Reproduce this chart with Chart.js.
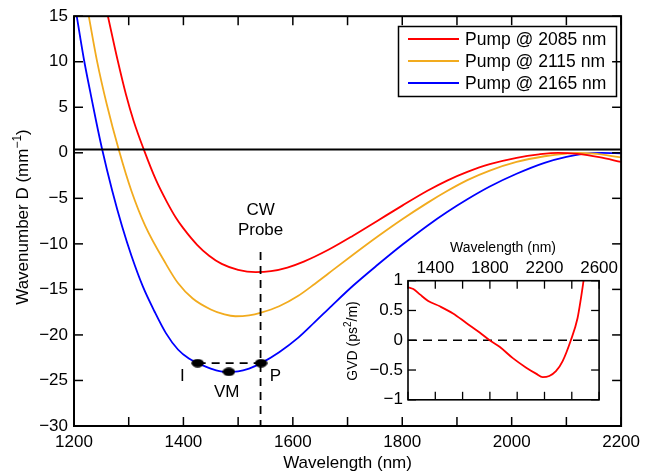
<!DOCTYPE html>
<html><head><meta charset="utf-8">
<script src="https://cdn.jsdelivr.net/npm/chart.js@4.4.1/dist/chart.umd.min.js"></script>
<style>
html,body{margin:0;padding:0;background:#fff;}
#wrap{position:relative;width:646px;height:471px;overflow:hidden;background:#fff;}
#main{position:absolute;left:0;top:0;}
#inset{position:absolute;left:330px;top:230px;}
</style></head><body>
<div id="wrap"><canvas id="main" width="646" height="471"></canvas><canvas id="inset" width="290" height="185"></canvas></div>
<script>
// ---------- DATA ----------
const seriesLabels = ['Pump @ 2085 nm', 'Pump @ 2115 nm', 'Pump @ 2165 nm'];
const seriesColors = ['#ff0000', '#f2ab1e', '#0000ff'];

const redWl  = [1262,1280,1295,1309,1328,1350,1369,1386,1400,1425,1447,1470,1500,1532,1560,1590,1620,1665,1710,1755,1800,1846,1882,1919,1960,2009,2050,2085,2120,2160,2200];
const redD   = [15,10.1,6.4,3.5,0.3,-3.0,-5.3,-7.1,-8.3,-10.1,-11.3,-12.2,-12.85,-13.1,-13.0,-12.6,-11.95,-10.65,-9.1,-7.45,-5.8,-4.17,-3.05,-2.1,-1.25,-0.55,-0.17,0.0,-0.12,-0.48,-1.0];

const orangeWl = [1227,1242,1260,1282,1305,1330,1368,1390,1417,1450,1475,1495,1520,1542,1575,1610,1640,1665,1710,1755,1800,1846,1882,1919,1960,2009,2060,2100,2120,2150,2200];
const orangeD  = [15,10.1,5.3,0.3,-4.2,-8.0,-12.2,-14.3,-16.0,-17.2,-17.75,-17.95,-17.85,-17.55,-16.85,-15.7,-14.4,-13.25,-11.2,-9.2,-7.3,-5.5,-4.2,-3.0,-1.95,-1.0,-0.38,-0.08,0.0,-0.1,-0.5];

const blueWl = [1205,1218,1230,1240,1251,1270,1288,1305,1326,1347,1368,1390,1410,1426,1450,1475,1500,1520,1542,1575,1610,1640,1671,1710,1755,1800,1846,1882,1919,1960,2009,2060,2100,2130,2165,2200];
const blueD  = [15,10.3,6.6,3.6,0.5,-4.2,-8.1,-11.3,-14.7,-17.4,-19.8,-21.6,-22.6,-23.1,-23.7,-24.05,-24.0,-23.7,-23.1,-21.9,-20.3,-18.6,-16.8,-14.6,-12.3,-10.1,-8.0,-6.5,-5.1,-3.7,-2.3,-1.1,-0.45,-0.12,0.0,-0.05];

const refLineWl = [1200, 2200];
const refLineD  = [0.35, 0.35];

const probeWl = [1541, 1541];
const probeD  = [-10.9, -30];

const levelWl = [1426, 1542];
const levelD  = [-23.1, -23.1];

const markerNames = ['I', 'VM', 'P'];
const markerWl = [1426, 1483, 1542];
const markerD  = [-23.1, -24.05, -23.1];

const mainXTickValues = [1200,1300,1400,1500,1600,1700,1800,1900,2000,2100,2200];
const mainXTickLabels = ['1200','','1400','','1600','','1800','','2000','','2200'];
const mainYTickValues = [15,10,5,0,-5,-10,-15,-20,-25,-30];
const mainYTickLabels = ['15','10','5','0','\u22125','\u221210','\u221215','\u221220','\u221225','\u221230'];

// inset GVD
const gvdWl = [1202,1239,1287,1348,1433,1530,1627,1725,1798,1871,1968,2066,2138,2187,2235,2284,2333,2393,2442,2466,2490];
const gvdVal = [0.89,0.86,0.77,0.66,0.57,0.45,0.29,0.13,0.0,-0.11,-0.30,-0.46,-0.56,-0.62,-0.60,-0.52,-0.35,0.0,0.37,0.69,1.06];
const gvdZeroWl = [1200, 2600];
const gvdZeroVal = [0, 0];
const insetXTickValues = [1200,1400,1600,1800,2000,2200,2400,2600];
const insetXTickLabels = ['','1400','','1800','','2200','','2600'];
const insetYTickValues = [1,0.5,0,-0.5,-1];
const insetYTickLabels = ['1','0.5','0','\u22120.5','\u22121'];

// ---------- helpers ----------
const pts = (xs, ys) => xs.map((v, i) => ({x: v, y: ys[i]}));
const FONT = "'Liberation Sans', Arial, Helvetica, sans-serif";
Chart.defaults.font.family = FONT;
Chart.defaults.color = '#000';

function line(ctx, x1, y1, x2, y2) { ctx.beginPath(); ctx.moveTo(x1, y1); ctx.lineTo(x2, y2); ctx.stroke(); }
function fixedTicks(values) { return function(scale) { scale.ticks = values.map(v => ({value: v})); }; }
function labelFrom(values, labels) { return function(v) { const i = values.indexOf(v); return i >= 0 ? labels[i] : ''; }; }

// ellipse marker style
const dot = document.createElement('canvas');
dot.width = 13; dot.height = 9;
(function(){ const c = dot.getContext('2d'); c.fillStyle = '#000'; c.beginPath(); c.ellipse(6.5, 4.5, 6.2, 4.2, 0, 0, Math.PI * 2); c.fill(); })();

// ---------- main chart ----------
const mainPlugin = {
  id: 'mainDecor',
  afterDraw(chart) {
    const {ctx, chartArea: a, scales: {x, y}} = chart;
    ctx.save();
    ctx.strokeStyle = '#000';
    ctx.lineWidth = 1.5;
    x.ticks.forEach(t => { const px = x.getPixelForValue(t.value); line(ctx, px, a.bottom, px, a.bottom - 9); line(ctx, px, a.top, px, a.top + 9); });
    y.ticks.forEach(t => { const py = y.getPixelForValue(t.value); line(ctx, a.left, py, a.left + 9, py); line(ctx, a.right, py, a.right - 9, py); });
    ctx.lineWidth = 2;
    ctx.strokeRect(a.left, a.top, a.right - a.left, a.bottom - a.top);

    // annotations
    ctx.fillStyle = '#000';
    ctx.font = '17px ' + FONT;
    ctx.textAlign = 'center';
    ctx.textBaseline = 'middle';
    ctx.fillText('CW', x.getPixelForValue(1541), y.getPixelForValue(-6.35));
    ctx.fillText('Probe', x.getPixelForValue(1541), y.getPixelForValue(-8.55));
    const lblPos = [[1398, -24.5], [1479, -26.3], [1568, -24.5]];
    markerNames.forEach((n, i) => ctx.fillText(n, x.getPixelForValue(lblPos[i][0]), y.getPixelForValue(lblPos[i][1])));

    // legend
    ctx.lineWidth = 1.5;
    ctx.strokeRect(398.5, 26.5, 218, 70);
    ctx.textAlign = 'left';
    ctx.font = '17.5px ' + FONT;
    seriesLabels.forEach((s, i) => {
      const ry = 39 + i * 22;
      ctx.strokeStyle = seriesColors[i];
      ctx.lineWidth = 2;
      line(ctx, 408, ry, 459, ry);
      ctx.fillStyle = '#000';
      ctx.fillText(s, 465, ry + 1);
    });

    // axis titles
    ctx.fillStyle = '#000';
    ctx.textAlign = 'center';
    ctx.textBaseline = 'alphabetic';
    ctx.font = '17px ' + FONT;
    ctx.fillText('Wavelength (nm)', (a.left + a.right) / 2, 468);

    const p1 = 'Wavenumber D (mm', sup = '\u22121', p2 = ')';
    ctx.font = '17px ' + FONT; const w1 = ctx.measureText(p1).width, w3 = ctx.measureText(p2).width;
    ctx.font = '12px ' + FONT; const w2 = ctx.measureText(sup).width;
    const total = w1 + w2 + w3;
    ctx.translate(28, 217);
    ctx.rotate(-Math.PI / 2);
    let cx = -total / 2;
    ctx.textAlign = 'left';
    ctx.font = '17px ' + FONT; ctx.fillText(p1, cx, 0); cx += w1;
    ctx.font = '12px ' + FONT; ctx.fillText(sup, cx, -7); cx += w2;
    ctx.font = '17px ' + FONT; ctx.fillText(p2, cx, 0);
    ctx.restore();
  }
};

const curveDs = (label, xs, ys, color) => ({
  label, data: pts(xs, ys), borderColor: color, borderWidth: 1.8,
  pointRadius: 0, fill: false, cubicInterpolationMode: 'monotone', order: 2
});

new Chart(document.getElementById('main'), {
  type: 'line',
  data: {
    datasets: [
      {data: pts(refLineWl, refLineD), borderColor: '#000', borderWidth: 2, pointRadius: 0, tension: 0, order: 1},
      curveDs(seriesLabels[0], redWl, redD, seriesColors[0]),
      curveDs(seriesLabels[1], orangeWl, orangeD, seriesColors[1]),
      curveDs(seriesLabels[2], blueWl, blueD, seriesColors[2]),
      {data: pts(probeWl, probeD), borderColor: '#000', borderWidth: 1.8, borderDash: [8, 6], pointRadius: 0, tension: 0, order: 0},
      {data: pts(levelWl, levelD), borderColor: '#000', borderWidth: 1.8, borderDash: [8, 6], pointRadius: 0, tension: 0, order: 0},
      {data: pts(markerWl, markerD), showLine: false, pointStyle: dot, pointRadius: 6, order: -1}
    ]
  },
  options: {
    responsive: false, animation: false, devicePixelRatio: 1,
    layout: {padding: {top: 15, right: 21, left: 0, bottom: 0}},
    plugins: {legend: {display: false}, tooltip: {enabled: false}},
    scales: {
      x: {
        type: 'linear', min: 1200, max: 2200,
        afterBuildTicks: fixedTicks(mainXTickValues),
        afterFit: s => { s.height = 45; },
        ticks: {autoSkip: false, maxRotation: 0, padding: 6, font: {size: 17}, callback: labelFrom(mainXTickValues, mainXTickLabels)},
        grid: {display: false, drawTicks: false}, border: {display: false}
      },
      y: {
        type: 'linear', min: -30, max: 15,
        afterBuildTicks: fixedTicks(mainYTickValues),
        afterFit: s => { s.width = 74; },
        ticks: {autoSkip: false, padding: 6, font: {size: 17}, callback: labelFrom(mainYTickValues, mainYTickLabels)},
        grid: {display: false, drawTicks: false}, border: {display: false}
      }
    }
  },
  plugins: [mainPlugin]
});

// ---------- inset chart ----------
const insetPlugin = {
  id: 'insetDecor',
  afterDraw(chart) {
    const {ctx, chartArea: a, scales: {x, y}} = chart;
    ctx.save();
    ctx.strokeStyle = '#000';
    ctx.lineWidth = 1.3;
    x.ticks.forEach(t => { const px = x.getPixelForValue(t.value); line(ctx, px, a.bottom, px, a.bottom - 8); line(ctx, px, a.top, px, a.top + 8); });
    y.ticks.forEach(t => { const py = y.getPixelForValue(t.value); line(ctx, a.left, py, a.left + 8, py); line(ctx, a.right, py, a.right - 8, py); });
    ctx.lineWidth = 1.6;
    ctx.strokeRect(a.left, a.top, a.right - a.left, a.bottom - a.top);

    ctx.fillStyle = '#000';
    ctx.textAlign = 'center';
    ctx.textBaseline = 'alphabetic';
    ctx.font = '14px ' + FONT;
    ctx.fillText('Wavelength (nm)', 503 - 330, 251.5 - 230);

    const p1 = 'GVD (ps', sup = '2', p2 = '/m)';
    ctx.font = '14px ' + FONT; const w1 = ctx.measureText(p1).width, w3 = ctx.measureText(p2).width;
    ctx.font = '10px ' + FONT; const w2 = ctx.measureText(sup).width;
    const total = w1 + w2 + w3;
    ctx.translate(357 - 330, 341 - 230);
    ctx.rotate(-Math.PI / 2);
    let cx = -total / 2;
    ctx.textAlign = 'left';
    ctx.font = '14px ' + FONT; ctx.fillText(p1, cx, 0); cx += w1;
    ctx.font = '10px ' + FONT; ctx.fillText(sup, cx, -6); cx += w2;
    ctx.font = '14px ' + FONT; ctx.fillText(p2, cx, 0);
    ctx.restore();
  }
};

new Chart(document.getElementById('inset'), {
  type: 'line',
  data: {
    datasets: [
      {data: pts(gvdZeroWl, gvdZeroVal), borderColor: '#000', borderWidth: 1.3, borderDash: [9, 6], pointRadius: 0, tension: 0, order: 1},
      {data: pts(gvdWl, gvdVal), borderColor: '#ff0000', borderWidth: 1.8, pointRadius: 0, cubicInterpolationMode: 'monotone', order: 0}
    ]
  },
  options: {
    responsive: false, animation: false, devicePixelRatio: 1,
    layout: {padding: {top: 0, right: 20, left: 0, bottom: 9.3}},
    plugins: {legend: {display: false}, tooltip: {enabled: false}},
    scales: {
      x: {
        type: 'linear', position: 'top', min: 1200, max: 2600,
        afterBuildTicks: fixedTicks(insetXTickValues),
        afterFit: s => { s.height = 50.7; },
        ticks: {autoSkip: false, maxRotation: 0, padding: 2, font: {size: 17}, callback: labelFrom(insetXTickValues, insetXTickLabels)},
        grid: {display: false, drawTicks: false}, border: {display: false}
      },
      y: {
        type: 'linear', min: -1, max: 1,
        afterBuildTicks: fixedTicks(insetYTickValues),
        afterFit: s => { s.width = 78; },
        ticks: {autoSkip: false, padding: 5, font: {size: 17}, callback: labelFrom(insetYTickValues, insetYTickLabels)},
        grid: {display: false, drawTicks: false}, border: {display: false}
      }
    }
  },
  plugins: [insetPlugin]
});
</script>
</body></html>
